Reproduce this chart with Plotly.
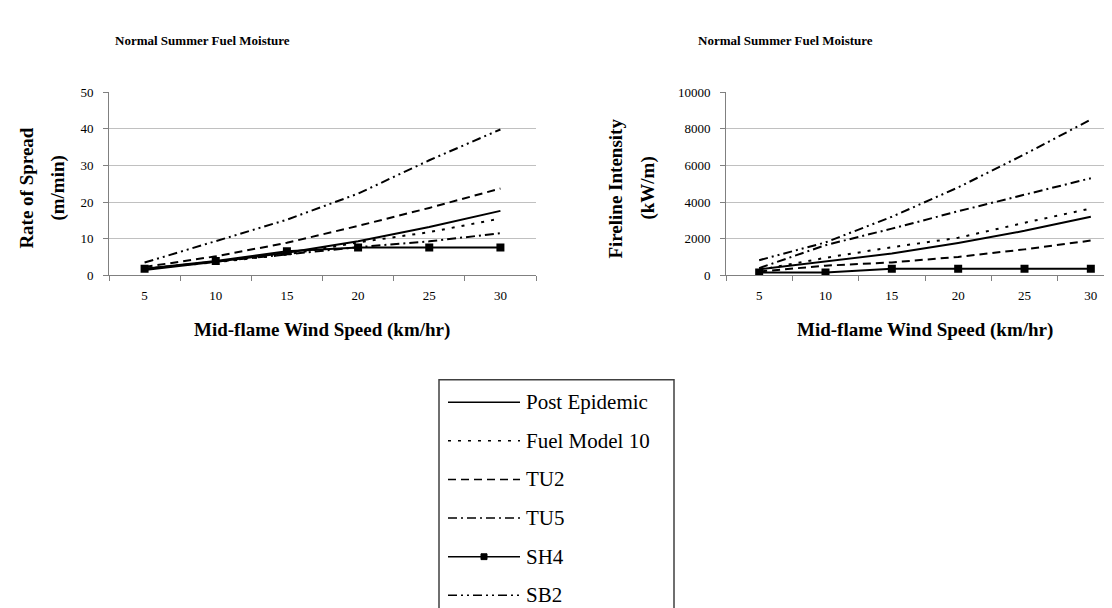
import plotly.graph_objects as go

W, H = 1112, 608

speeds = ["5", "10", "15", "20", "25", "30"]

# rate of spread (m/min)
post_epidemic_ros = [1.5, 3.7, 6.2, 9.3, 13.2, 17.6]
fm10_ros = [1.8, 3.6, 5.7, 9.0, 11.8, 15.5]
tu2_ros = [2.3, 5.2, 8.9, 13.5, 18.4, 23.7]
tu5_ros = [1.8, 3.8, 5.8, 7.7, 9.3, 11.5]
sh4_ros = [1.8, 3.9, 6.6, 7.6, 7.6, 7.6]
sb2_ros = [3.5, 9.3, 15.2, 22.3, 31.4, 39.8]

# fireline intensity (kW/m)
post_epidemic_fli = [335, 745, 1190, 1770, 2430, 3200]
fm10_fli = [300, 960, 1540, 2050, 2870, 3650]
tu2_fli = [210, 530, 710, 1010, 1420, 1900]
tu5_fli = [400, 1650, 2550, 3500, 4400, 5300]
sh4_fli = [160, 160, 370, 370, 370, 370]
sb2_fli = [830, 1800, 3200, 4800, 6600, 8500]

names = ["Post Epidemic", "Fuel Model 10", "TU2", "TU5", "SH4", "SB2"]
dashes = ["solid", "3px,7px", "8px,5px", "9px,4px,2px,4px",
          "solid", "9px,4px,2px,4px,2px,4px"]
ros = [post_epidemic_ros, fm10_ros, tu2_ros, tu5_ros, sh4_ros, sb2_ros]
fli = [post_epidemic_fli, fm10_fli, tu2_fli, tu5_fli, sh4_fli, sb2_fli]

SERIF = "Liberation Serif, Times New Roman, serif"

def px_x(x):
    return x / W

def px_y(y):
    return 1 - y / H

fig = go.Figure()
for name, dash, r, f in zip(names, dashes, ros, fli):
    mode = "lines+markers" if name == "SH4" else "lines"
    for vals, xa, ya in [(r, "x", "y"), (f, "x2", "y2")]:
        fig.add_trace(go.Scatter(x=speeds, y=vals, name=name, mode=mode,
                                 xaxis=xa, yaxis=ya, showlegend=False,
                                 line=dict(color="black", width=2, dash=dash),
                                 marker=dict(symbol="square", size=8, color="black")))

axis_common = dict(type="category", tickson="boundaries", ticks="outside",
                   ticklen=5, tickcolor="#808080", showline=True,
                   linecolor="#808080", linewidth=1, showgrid=False,
                   ticklabelstandoff=8,
                   tickfont=dict(family=SERIF, size=13, color="black"))
yaxis_common = dict(ticks="outside", ticklen=5, tickcolor="#808080",
                    showline=True, linecolor="#808080", linewidth=1,
                    showgrid=True, gridcolor="#c0c0c0", gridwidth=1,
                    zeroline=False, tickformat="d", ticklabelstandoff=7,
                    tickfont=dict(family=SERIF, size=13, color="black"))

fig.update_layout(
    width=W, height=H,
    margin=dict(l=0, r=0, t=0, b=0),
    paper_bgcolor="white", plot_bgcolor="white",
    font=dict(family=SERIF, color="black"),
    xaxis=dict(axis_common, domain=[px_x(101), px_x(528)], anchor="y",
               range=[-0.5, 5.5]),
    yaxis=dict(yaxis_common, domain=[px_y(267), px_y(79)], anchor="x",
               range=[0, 50], dtick=10),
    xaxis2=dict(axis_common, domain=[px_x(718), 1], anchor="y2",
                range=[-0.5, -0.5 + 6 * (W - 718) / 398]),
    yaxis2=dict(yaxis_common, domain=[px_y(267), px_y(79)], anchor="x2",
                range=[0, 10000], dtick=2000),
)

ann = []
title_font = dict(family=SERIF, size=13, color="black")
axis_font = dict(family=SERIF, size=19, color="black")

def note(text, x, y, font, **kw):
    ann.append(dict(text=text, x=px_x(x), y=px_y(y), xref="paper", yref="paper",
                    showarrow=False, xanchor=kw.pop("xanchor", "center"),
                    yanchor="middle", font=font, **kw))

for cx in [194, 777]:
    note("<b>Normal Summer Fuel Moisture</b>", cx, 26, title_font)
for cx in [314, 917]:
    note("<b>Mid-flame Wind Speed (km/hr)</b>", cx, 323, axis_font)
note("<b>Rate of Spread</b>", 19, 178, axis_font, textangle=-90)
note("<b>(m/min)</b>", 50, 178, axis_font, textangle=-90)
note("<b>Fireline Intensity</b>", 608, 178, axis_font, textangle=-90)
note("<b>(kW/m)</b>", 640, 178, axis_font, textangle=-90)

# legend box drawn by hand (Excel-style)
shapes = [dict(type="rect", xref="paper", yref="paper",
               x0=px_x(431), x1=px_x(666), y0=px_y(640), y1=px_y(374),
               line=dict(color="#404040", width=1.5), fillcolor="white", layer="above")]
leg_y0, leg_step = 397, 39.6
for i, (name, dash) in enumerate(zip(names, dashes)):
    yy = leg_y0 + i * leg_step
    shapes.append(dict(type="line", xref="paper", yref="paper",
                       x0=px_x(440), x1=px_x(512), y0=px_y(yy), y1=px_y(yy),
                       line=dict(color="black", width=1.5, dash=dash), layer="above"))
    if name == "SH4":
        shapes.append(dict(type="rect", xref="paper", yref="paper",
                           x0=px_x(473), x1=px_x(479), y0=px_y(yy + 3), y1=px_y(yy - 3),
                           line=dict(color="black", width=1), fillcolor="black",
                           layer="above"))
    note(name, 516, yy, dict(family=SERIF, size=21, color="black"), xanchor="left")

fig.update_layout(annotations=ann, shapes=shapes)
fig.write_html("out.html")
